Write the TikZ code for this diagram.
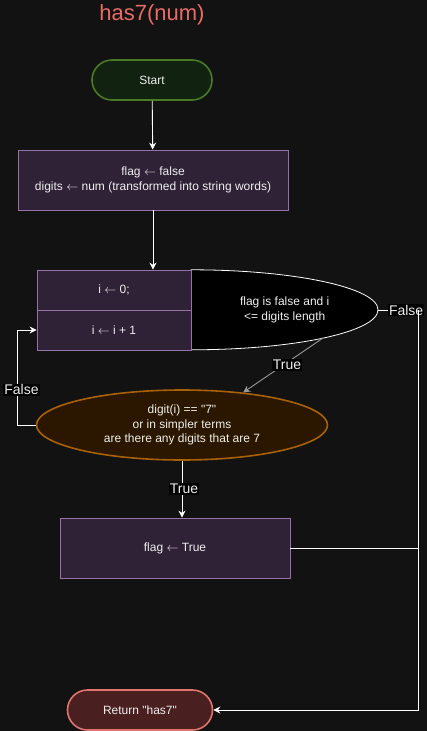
\documentclass[tikz,border=0pt]{standalone}
\usepackage{fontspec}
\setmainfont{Liberation Sans}[Ligatures=TeXOff]
\usepackage{xcolor}
\usetikzlibrary{arrows.meta,positioning,shapes.geometric,backgrounds}

\definecolor{bgdark}{HTML}{121212}
\definecolor{txtgray}{HTML}{EEEEEE}
\definecolor{titlered}{HTML}{EA6B66}
\definecolor{startfill}{HTML}{112211}
\definecolor{startline}{HTML}{4A7A26}
\definecolor{boxfill}{HTML}{2F2237}
\definecolor{boxline}{HTML}{9673A6}
\definecolor{decfill}{HTML}{2B1700}
\definecolor{decline}{HTML}{A86108}
\definecolor{retfill}{HTML}{4A1F1F}
\definecolor{retline}{HTML}{E07570}

\newcommand{\getsto}{\ensuremath{\leftarrow}}

\begin{document}
\begin{tikzpicture}[
    x=1pt, y=-1pt,
    font=\fontsize{12}{14.5}\selectfont,
    >={Stealth[length=7pt,width=7pt]},
    every node/.style={text=txtgray},
    % Styles
    terminal/.style={rectangle, rounded corners=20pt, line width=1.6pt, minimum height=40pt, align=center},
    process/.style={rectangle, draw=boxline, fill=boxfill, line width=0.8pt, minimum height=60pt, align=center},
    loopcell/.style={rectangle, draw=boxline, fill=boxfill, line width=0.8pt, minimum width=154pt, minimum height=40pt},
    decision/.style={ellipse, draw=decline, fill=decfill, line width=1.6pt, minimum width=291pt, minimum height=70pt, inner sep=0pt, align=center},
    lbl/.style={fill=black, font=\fontsize{14}{16}\selectfont, inner sep=1pt},
    arrow/.style={->, line width=0.9pt, draw=white},
    line/.style={-, line width=0.9pt, draw=white}
]
\useasboundingbox (0,0) rectangle (427,731);

% --- Title and start ---
\node[font=\fontsize{22}{26}\selectfont, text=titlered] (title) at (152,15) {has7(num)};
\node[terminal, draw=startline, fill=startfill, minimum width=120pt] (start) at (152,80) {Start};
\node[process, minimum width=270pt] (init) at (153,180) {flag \getsto{} false\\digits \getsto{} num (transformed into string words)};

% --- For loop ---
\node[loopcell] (ctr) at (114,290) {i \getsto{} 0;};
\node[loopcell] (inc) at (114,330) {i \getsto{} i + 1};
\node[minimum width=187pt, minimum height=80pt, inner sep=0pt, align=center, anchor=west] (cond) at (191,310) {flag is false and i\\<= digits length};
\coordinate (condbot) at ([shift={(132pt,-28pt)}]cond.west);

% --- Body ---
\node[decision] (dec) at (182,425) {digit(i) == "7"\\or in simpler terms\\are there any digits that are 7};
\node[process, minimum width=230pt] (settrue) at (175,548) {flag \getsto{} True};
\node[terminal, draw=retline, fill=retfill, minimum width=145pt] (ret) at (140,710) {Return "has7"};

\coordinate (rail) at (418,310);
\coordinate (lrail) at (17,425);

% --- Connections ---
\draw[arrow] (start) -- (init);
\draw[arrow] (init.south) -- (init.south |- ctr.north);
\draw[line] (cond.east) -- node[lbl, pos=0.7] {False} (rail);
\draw[arrow] (rail) |- (ret.east);
\draw[arrow, draw=gray!80!white] (condbot) -- node[lbl, xshift=4pt] {True} (dec.28);
\draw[arrow] (dec.south) -- node[lbl, xshift=2pt] {True} (dec.south |- settrue.north);
\draw[line] (settrue.east) -- (settrue.east -| rail);
\draw[arrow] (dec.west) -- (lrail) -- node[lbl, pos=0.37, xshift=4.5pt] {False} (lrail |- inc.west) -- (inc.west);

% --- Page and loop condition shape ---
\begin{scope}[on background layer]
    \fill[bgdark] (0,0) rectangle (427,731);
    \draw[white, line width=0.8pt, fill=black] (cond.north west) arc[start angle=90, end angle=-90, x radius=187pt, y radius=40pt] -- cycle;
\end{scope}

\end{tikzpicture}
\end{document}
